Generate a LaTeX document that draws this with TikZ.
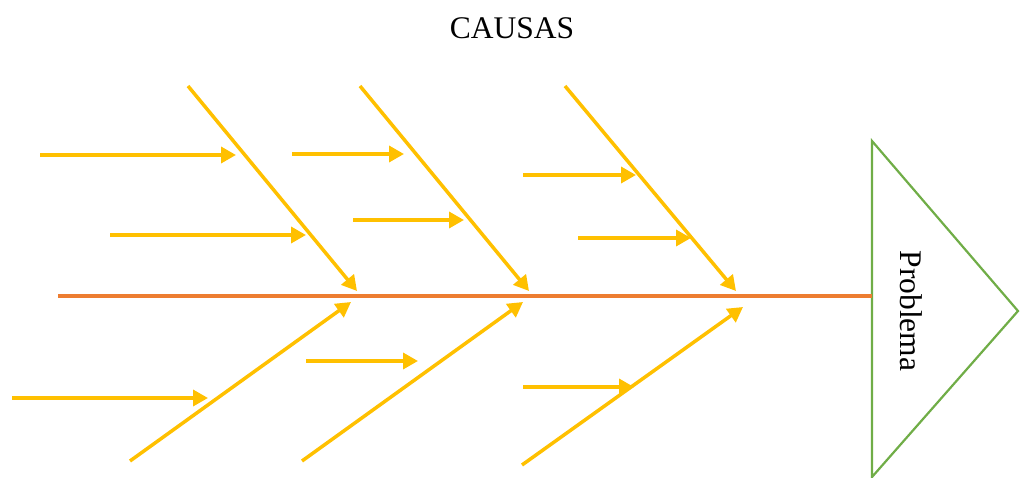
\documentclass[tikz,border=0pt]{standalone}
\usepackage{fontspec}
\setmainfont{Liberation Serif}
\usetikzlibrary{arrows.meta}
\definecolor{bone}{HTML}{FFC000}
\definecolor{spinec}{HTML}{ED7D31}
\definecolor{headc}{HTML}{70AD47}
\begin{document}
\begin{tikzpicture}[x=1pt,y=-1pt,
  bonearrow/.style={draw=bone,line width=3.5pt,-{Triangle[length=15pt,width=16pt]}},
  spineline/.style={draw=spinec,line width=3.5pt},
  headtri/.style={draw=headc,line width=2.2pt,line join=miter}]
\useasboundingbox (0,0) rectangle (1020,478);
\node[font=\fontsize{31.5}{34}\selectfont] (title) at (512,28) {CAUSAS};
% head
\coordinate (ht) at (872,141);
\coordinate (hb) at (872,477);
\coordinate (hr) at (1018,311);
\draw[headtri] (ht) -- (hr) -- (hb) -- cycle;
\node[rotate=-90,font=\fontsize{31.5}{34}\selectfont] (prob) at (911,311) {Problema};
% spine
\coordinate (s0) at (58,296);
\coordinate (s1) at (872,296);
\draw[spineline] (s0) -- (s1);
% upper main bones
\coordinate (u1a) at (188,86); \coordinate (u1b) at (357,291);
\coordinate (u2a) at (360,86); \coordinate (u2b) at (529,291);
\coordinate (u3a) at (565,86); \coordinate (u3b) at (736,291);
\draw[bonearrow] (u1a) -- (u1b);
\draw[bonearrow] (u2a) -- (u2b);
\draw[bonearrow] (u3a) -- (u3b);
% lower main bones
\coordinate (l1a) at (130,461); \coordinate (l1b) at (351,302);
\coordinate (l2a) at (302,461); \coordinate (l2b) at (523,302);
\coordinate (l3a) at (522,465); \coordinate (l3b) at (743,307);
\draw[bonearrow] (l1a) -- (l1b);
\draw[bonearrow] (l2a) -- (l2b);
\draw[bonearrow] (l3a) -- (l3b);
% minor bones
\coordinate (h1a) at (40,155);  \coordinate (h1b) at (236,155);
\coordinate (h2a) at (110,235); \coordinate (h2b) at (306,235);
\coordinate (h3a) at (292,154); \coordinate (h3b) at (404,154);
\coordinate (h4a) at (353,220); \coordinate (h4b) at (464,220);
\coordinate (h5a) at (523,175); \coordinate (h5b) at (636,175);
\coordinate (h6a) at (578,238); \coordinate (h6b) at (691,238);
\coordinate (h7a) at (12,398);  \coordinate (h7b) at (208,398);
\coordinate (h8a) at (306,361); \coordinate (h8b) at (418,361);
\coordinate (h9a) at (523,387); \coordinate (h9b) at (634,387);
\foreach \i in {1,...,9} {\draw[bonearrow] (h\i a) -- (h\i b);}
\end{tikzpicture}
\end{document}
